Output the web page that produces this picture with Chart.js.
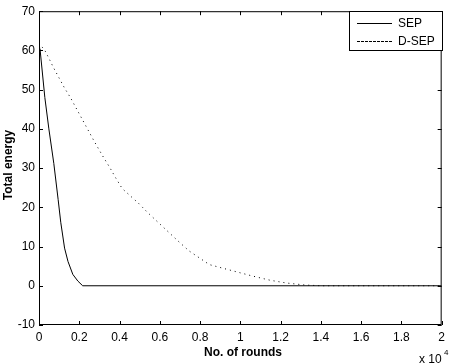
<!DOCTYPE html>
<html lang="en">
<head>
  <meta charset="UTF-8">
  <title>Total energy vs No. of rounds</title>
  <script src="https://cdn.jsdelivr.net/npm/chart.js"></script>
  <style>
    * { margin: 0; padding: 0; }
    body { background: #fff; }
    .wrap { width: 450px; height: 364px; position: relative; }
  </style>
</head>
<body>
<div class="wrap">
  <canvas id="energyChart" width="450" height="364"></canvas>
</div>

<script>
  // values (x in rounds)
  const sepRounds   = [0, 50, 290, 490, 735, 950, 1080, 1270, 1440, 1680, 1930, 2170, 20000];
  const sepEnergy   = [60, 60.4, 48, 40, 31.2, 22, 16.2, 9.6, 6.2, 2.9, 1.2, 0, 0];
  const dsepRounds  = [0, 100, 290, 540, 700, 1270, 1570, 2120, 2745, 3150, 3510, 3810, 4130, 4950, 5410, 6910, 7450, 8460, 9040, 10590, 11490, 12300, 13200, 14000, 20000];
  const dsepEnergy  = [60.5, 61.2, 60, 57.5, 55.8, 50.4, 47.9, 42.7, 36.8, 33.2, 30.2, 27.5, 24.8, 21, 18.6, 11.4, 8.9, 5.4, 4.6, 2.5, 1.4, 0.7, 0.2, 0, 0];
  const seriesNames = ['SEP', 'D-SEP'];
  const xTicks = [0, 2000, 4000, 6000, 8000, 10000, 12000, 14000, 16000, 18000, 20000];
  const yTicks = [-10, 0, 10, 20, 30, 40, 50, 60, 70];

  const tickFont = { family: 'Liberation Sans, Arial, sans-serif', size: 12 };

  const toPoints = (xs, ys) => xs.map((x, i) => ({ x: x, y: ys[i] }));

  // box, inward ticks, legend and axis labels in matlab style
  const matlabFrame = {
    id: 'matlabFrame',
    afterDraw(chart) {
      const c = chart.ctx;
      const a = chart.chartArea;
      const sx = chart.scales.x, sy = chart.scales.y;
      c.save();
      c.strokeStyle = '#000';
      c.lineWidth = 1;
      c.strokeRect(a.left + 0.5, a.top + 0.5, a.right - a.left - 1, a.bottom - a.top - 1);

      c.beginPath();
      xTicks.forEach(v => {
        const px = Math.round(sx.getPixelForValue(v)) + 0.5;
        c.moveTo(px, a.bottom); c.lineTo(px, a.bottom - 4);
        c.moveTo(px, a.top); c.lineTo(px, a.top + 4);
      });
      yTicks.forEach(v => {
        const py = Math.round(sy.getPixelForValue(v)) + 0.5;
        c.moveTo(a.left, py); c.lineTo(a.left + 4, py);
        c.moveTo(a.right, py); c.lineTo(a.right - 4, py);
      });
      c.stroke();

      // legend
      const lx = 349, ly = 11, lw = 93, lh = 39;
      c.fillStyle = '#fff';
      c.fillRect(lx, ly, lw, lh);
      c.strokeRect(lx + 0.5, ly + 0.5, lw, lh);
      c.font = '12px Liberation Sans, Arial, sans-serif';
      c.fillStyle = '#000';
      c.textBaseline = 'middle';
      c.textAlign = 'left';
      chart.data.datasets.forEach((ds, i) => {
        const y = ly + 12 + i * 18 + 0.5;
        c.setLineDash(i === 1 ? [3, 1] : []);
        c.beginPath();
        c.moveTo(357, y); c.lineTo(392, y);
        c.stroke();
        c.setLineDash([]);
        c.fillText(ds.label, 398, y);
      });

      // axis titles
      c.font = 'bold 12px Liberation Sans, Arial, sans-serif';
      c.textAlign = 'center';
      c.fillText('No. of rounds', 243, 353);
      c.save();
      c.translate(9, 165);
      c.rotate(-Math.PI / 2);
      c.fillText('Total energy', 0, 0);
      c.restore();

      // exponent
      c.font = '12px Liberation Sans, Arial, sans-serif';
      c.textAlign = 'left';
      c.fillText('x 10', 419, 360);
      c.font = '8px Liberation Sans, Arial, sans-serif';
      c.fillText('4', 444, 353);
      c.restore();
    }
  };

  new Chart(document.getElementById('energyChart'), {
    type: 'line',
    data: {
      datasets: [
        {
          label: seriesNames[0],
          data: toPoints(sepRounds, sepEnergy),
          borderColor: '#000',
          borderWidth: 1,
          pointRadius: 0,
          tension: 0
        },
        {
          label: seriesNames[1],
          data: toPoints(dsepRounds, dsepEnergy),
          borderColor: '#000',
          borderWidth: 1,
          borderDash: [1, 4],
          pointRadius: 0,
          tension: 0
        }
      ]
    },
    options: {
      responsive: false,
      animation: false,
      layout: { padding: { top: 5, right: 3, left: 0, bottom: 0 } },
      plugins: {
        legend: { display: false },
        tooltip: { enabled: false }
      },
      scales: {
        x: {
          type: 'linear',
          min: 0,
          max: 20000,
          afterBuildTicks: s => { s.ticks = xTicks.map(v => ({ value: v })); },
          afterFit: s => { s.height = 39; },
          grid: { display: false, drawTicks: false },
          border: { display: false },
          ticks: {
            color: '#000',
            font: tickFont,
            padding: 5,
            maxRotation: 0,
            callback: v => String(+(v / 10000).toFixed(1))
          }
        },
        y: {
          min: -10,
          max: 70,
          afterBuildTicks: s => { s.ticks = yTicks.map(v => ({ value: v })); },
          afterFit: s => { s.width = 39; },
          grid: { display: false, drawTicks: false },
          border: { display: false },
          ticks: { color: '#000', font: tickFont, padding: 4 }
        }
      }
    },
    plugins: [matlabFrame]
  });
</script>
</body>
</html>
